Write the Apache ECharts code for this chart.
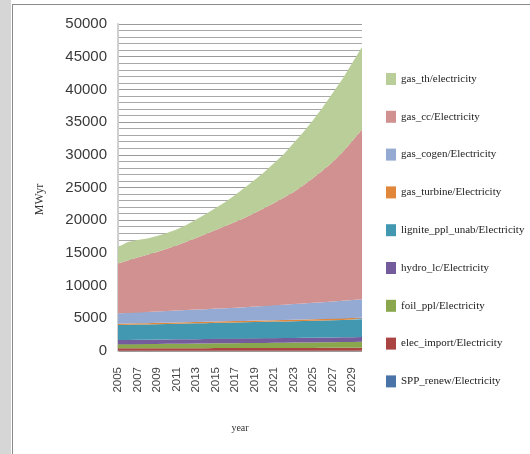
<!DOCTYPE html>
<html>
<head>
<meta charset="utf-8">
<script src="https://cdn.jsdelivr.net/npm/echarts@6/dist/echarts.min.js"></script>
<style>
  html, body { margin: 0; padding: 0; background: #ffffff; }
  #chart { width: 530px; height: 454px; }
</style>
</head>
<body>
<div id="chart"></div>
<script>
// Years on the category axis
const years = ['2005','2006','2007','2008','2009','2010','2011','2012','2013','2014','2015','2016','2017',
               '2018','2019','2020','2021','2022','2023','2024','2025','2026','2027','2028','2029','2030'];

// Installed capacity by technology, MWyr (stacked bottom to top)
const sppRenew   = [20,20,20,20,20,25,25,25,25,25,30,30,30,30,30,30,35,35,35,35,35,40,40,40,40,40];
const elecImport = [390,390,395,395,400,400,405,405,410,410,415,415,420,420,425,425,430,430,435,440,440,445,450,450,455,460];
const foilPpl    = [610,620,630,645,655,665,680,690,700,715,725,735,750,760,770,785,795,805,820,830,840,855,865,880,900,920];
const hydroLc    = [660,660,665,665,670,670,675,675,680,680,685,685,690,690,695,695,700,700,705,705,710,710,715,715,720,720];
const lignitePpl = [2300,2310,2330,2340,2360,2370,2390,2400,2420,2430,2450,2460,2480,2490,2510,2520,2540,2550,2570,2590,2600,2620,2640,2660,2690,2710];
const gasTurbine = [190,190,195,195,200,200,200,205,205,210,210,210,215,215,220,220,220,225,225,230,230,230,235,235,240,240];
const gasCogen   = [1600,1635,1670,1710,1745,1780,1820,1855,1890,1930,1965,2000,2040,2095,2150,2210,2270,2330,2390,2450,2510,2570,2630,2690,2750,2810];
const gasCc      = [7610,8030,8400,8750,9090,9510,9940,10440,10950,11480,12020,12570,13100,13690,14300,14970,15640,16380,17130,18050,19090,20150,21330,22730,24320,25970];
const gasTh      = [2520,2820,2670,2480,2440,2420,2450,2580,2830,3070,3370,3680,4130,4610,5050,5520,6120,6670,7490,8160,8870,9690,10550,11190,11930,12610];

const layers = [
  { name: 'SPP_renew/Electricity',         data: sppRenew,   color: '#4a74a8' },
  { name: 'elec_import/Electricity',       data: elecImport, color: '#aa4442' },
  { name: 'foil_ppl/Electricity',          data: foilPpl,    color: '#8aa74d' },
  { name: 'hydro_lc/Electricity',          data: hydroLc,    color: '#745c9c' },
  { name: 'lignite_ppl_unab/Electricity',  data: lignitePpl, color: '#4298b0' },
  { name: 'gas_turbine/Electricity',       data: gasTurbine, color: '#e0873a' },
  { name: 'gas_cogen/Electricity',         data: gasCogen,   color: '#95aad2' },
  { name: 'gas_cc/Electricity',            data: gasCc,      color: '#d09190' },
  { name: 'gas_th/electricity',            data: gasTh,      color: '#b9ce98' }
];

const chart = echarts.init(document.getElementById('chart'), null, { renderer: 'canvas' });

chart.setOption({
  backgroundColor: '#ffffff',
  animation: false,
  graphic: [
    // page margin strip and frame lines
    { type: 'rect', left: 0, top: 0, shape: { width: 11, height: 454 }, style: { fill: '#d6d6d6' }, z: -10 },
    { type: 'line', shape: { x1: 12, y1: 4.5, x2: 530, y2: 4.5 }, style: { stroke: '#8a8a8a', lineWidth: 1 } },
    { type: 'line', shape: { x1: 12.5, y1: 4, x2: 12.5, y2: 454 }, style: { stroke: '#8a8a8a', lineWidth: 1 } }
  ],
  grid: { left: 118, top: 24, right: 168, bottom: 103, containLabel: false },
  legend: {
    orient: 'vertical',
    left: 386,
    top: 73,
    padding: 0,
    itemWidth: 10,
    itemHeight: 12,
    itemGap: 25.8,
    icon: 'rect',
    textStyle: { fontFamily: 'Liberation Serif', fontSize: 11, color: '#222' },
    data: layers.map(l => l.name).reverse()
  },
  xAxis: {
    type: 'category',
    data: years,
    boundaryGap: false,
    name: 'year',
    nameLocation: 'middle',
    nameGap: 72,
    nameTextStyle: { fontFamily: 'Liberation Serif', fontSize: 10, color: '#333' },
    axisLine: { show: false },
    axisTick: { show: false },
    axisLabel: { interval: 1, rotate: 90, margin: 16, fontFamily: 'Liberation Sans', fontSize: 11.5, color: '#444' },
    splitLine: { show: false }
  },
  yAxis: {
    type: 'value',
    min: 0,
    max: 50000,
    interval: 5000,
    name: 'MWyr',
    nameLocation: 'middle',
    nameRotate: 90,
    nameGap: 72,
    nameTextStyle: { fontFamily: 'Liberation Serif', fontSize: 12, color: '#333', padding: [0, 24, 0, 0] },
    axisLine: { show: true, lineStyle: { color: '#cfcfcf', width: 2 } },
    axisTick: { show: false },
    axisLabel: { margin: 11, fontFamily: 'Liberation Sans', fontSize: 15, color: '#3a3a3a',
                 formatter: v => String(v) },
    splitLine: { show: true, lineStyle: { color: '#9a9a9a', width: 1 } },
    minorTick: { show: false, splitNumber: 5 },
    minorSplitLine: { show: true, lineStyle: { color: '#a8a8a8', width: 1 } }
  },
  series: layers.map(l => ({
    name: l.name,
    type: 'line',
    stack: 'total',
    data: l.data,
    symbol: 'none',
    lineStyle: { width: 0 },
    itemStyle: { color: l.color },
    areaStyle: { color: l.color, opacity: 1 },
    emphasis: { disabled: true }
  }))
});
</script>
</body>
</html>
